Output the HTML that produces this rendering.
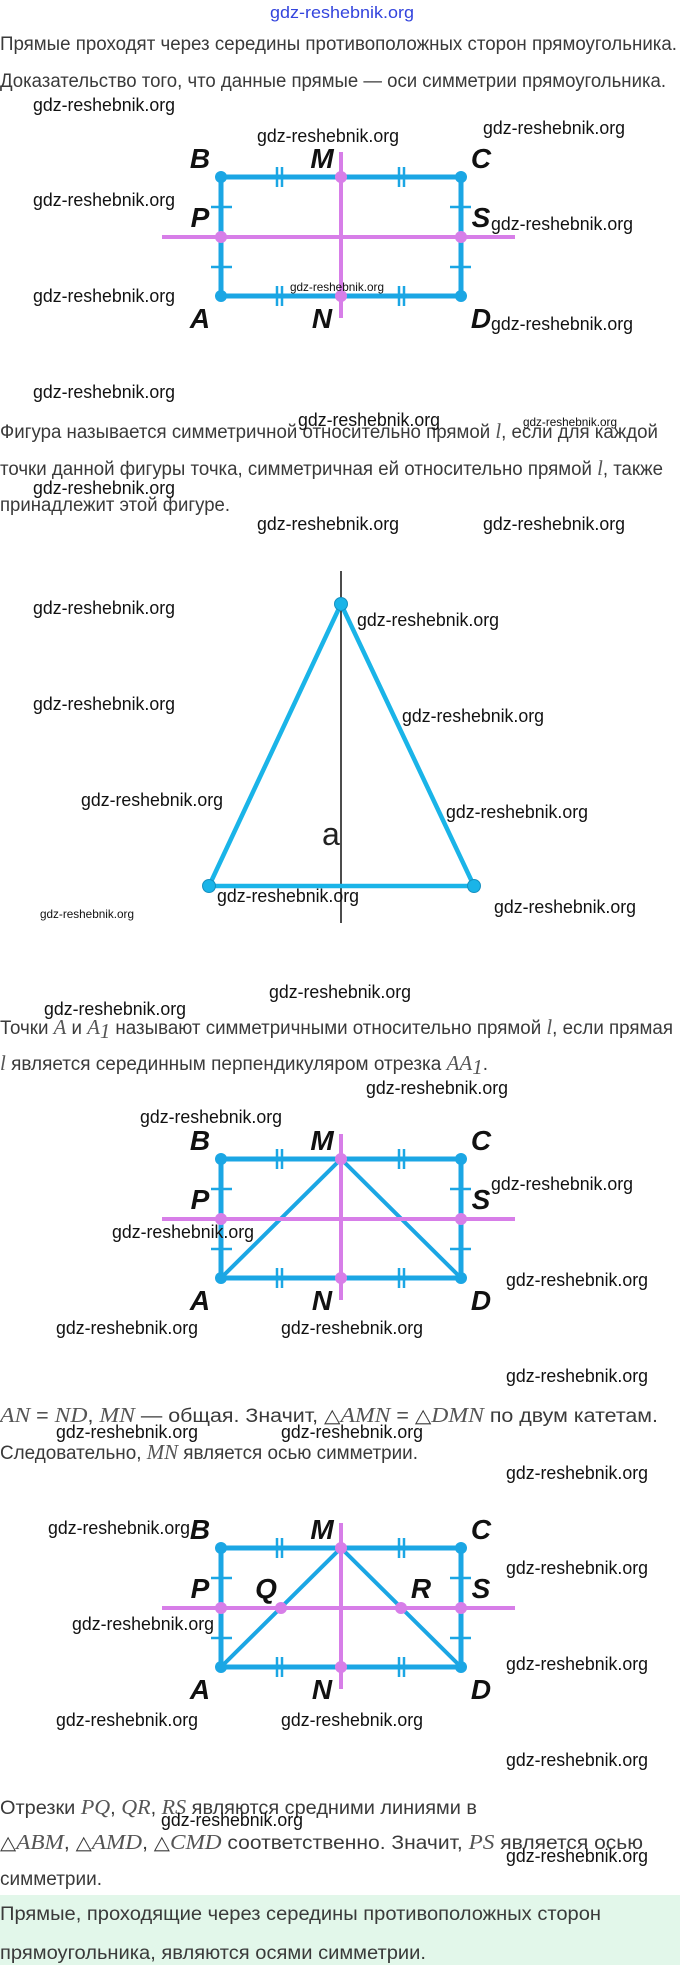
<!DOCTYPE html>
<html><head><meta charset="utf-8"><style>
html,body{margin:0;padding:0;background:#fff;}
svg{display:block;}
.t{font-family:"Liberation Sans",sans-serif;font-size:19px;fill:#3a3a3a;}
.m{font-family:"Liberation Serif",serif;font-style:italic;font-size:21px;fill:#555;}
.w{font-family:"Liberation Sans",sans-serif;font-size:18px;fill:#111;}
.ws{font-family:"Liberation Sans",sans-serif;font-size:12px;fill:#111;}
.L{font-family:"Liberation Sans",sans-serif;font-weight:bold;font-style:italic;font-size:28px;fill:#111;}
</style></head><body>
<svg width="680" height="1965" viewBox="0 0 680 1965" xmlns="http://www.w3.org/2000/svg">
<defs>
<g id="rect">
  <line x1="162" y1="60" x2="515" y2="60" stroke="#d77ee8" stroke-width="4"/>
  <line x1="341" y1="-25" x2="341" y2="141" stroke="#d77ee8" stroke-width="4"/>
  <rect x="221" y="0" width="240" height="119" fill="none" stroke="#1ba6e4" stroke-width="5"/>
  <g stroke="#1ba6e4" stroke-width="2.5">
    <line x1="277" y1="-10" x2="277" y2="10"/><line x1="282" y1="-10" x2="282" y2="10"/>
    <line x1="399" y1="-10" x2="399" y2="10"/><line x1="404" y1="-10" x2="404" y2="10"/>
    <line x1="277" y1="109" x2="277" y2="129"/><line x1="282" y1="109" x2="282" y2="129"/>
    <line x1="399" y1="109" x2="399" y2="129"/><line x1="404" y1="109" x2="404" y2="129"/>
    <line x1="211" y1="30" x2="232" y2="30"/><line x1="211" y1="90" x2="232" y2="90"/>
    <line x1="450" y1="30" x2="471" y2="30"/><line x1="450" y1="90" x2="471" y2="90"/>
  </g>
  <circle cx="221" cy="0" r="6" fill="#1ba6e4"/><circle cx="461" cy="0" r="6" fill="#1ba6e4"/>
  <circle cx="221" cy="119" r="6" fill="#1ba6e4"/><circle cx="461" cy="119" r="6" fill="#1ba6e4"/>
  <circle cx="341" cy="0" r="6" fill="#d77ee8"/><circle cx="341" cy="119" r="6" fill="#d77ee8"/>
  <circle cx="221" cy="60" r="6" fill="#d77ee8"/><circle cx="461" cy="60" r="6" fill="#d77ee8"/>
  <text class="L" x="200" y="-9" text-anchor="middle">B</text>
  <text class="L" x="322" y="-9" text-anchor="middle">M</text>
  <text class="L" x="481" y="-9" text-anchor="middle">C</text>
  <text class="L" x="200" y="50" text-anchor="middle">P</text>
  <text class="L" x="481" y="50" text-anchor="middle">S</text>
  <text class="L" x="200" y="151" text-anchor="middle">A</text>
  <text class="L" x="322" y="151" text-anchor="middle">N</text>
  <text class="L" x="481" y="151" text-anchor="middle">D</text>
</g>
<g id="diag">
  <polyline points="221,119 341,0 461,119" fill="none" stroke="#1ba6e4" stroke-width="4"/>
</g>
</defs>

<text x="342" y="18" text-anchor="middle" font-family="Liberation Sans,sans-serif" font-size="17" fill="#3344dd" textLength="144" lengthAdjust="spacingAndGlyphs">gdz-reshebnik.org</text>
<text class="t" x="0" y="50" textLength="677" lengthAdjust="spacingAndGlyphs">Прямые проходят через середины противоположных сторон прямоугольника.</text>
<text class="t" x="0" y="87" textLength="666" lengthAdjust="spacingAndGlyphs">Доказательство того, что данные прямые — оси симметрии прямоугольника.</text>

<g transform="translate(0,177)"><use href="#rect"/></g>

<text class="t" x="0" y="438" textLength="658" lengthAdjust="spacingAndGlyphs">Фигура называется симметричной относительно прямой <tspan class="m">l</tspan>, если для каждой</text>
<text class="t" x="0" y="475" textLength="663" lengthAdjust="spacingAndGlyphs">точки данной фигуры точка, симметричная ей относительно прямой <tspan class="m">l</tspan>, также</text>
<text class="t" x="0" y="511" textLength="230" lengthAdjust="spacingAndGlyphs">принадлежит этой фигуре.</text>

<line x1="341" y1="571" x2="341" y2="923" stroke="#111" stroke-width="1.5"/>
<polygon points="341,604 209,886 474,886" fill="none" stroke="#1ab4e8" stroke-width="4.5" stroke-linejoin="round"/>
<circle cx="341" cy="604" r="6.5" fill="#1ab4e8" stroke="#1590c0" stroke-width="1"/>
<circle cx="209" cy="886" r="6.5" fill="#1ab4e8" stroke="#1590c0" stroke-width="1"/>
<circle cx="474" cy="886" r="6.5" fill="#1ab4e8" stroke="#1590c0" stroke-width="1"/>
<text x="322" y="845" font-family="Liberation Sans,sans-serif" font-size="32" fill="#222">a</text>

<text class="t" x="0" y="1034" textLength="673" lengthAdjust="spacingAndGlyphs">Точки <tspan class="m">A</tspan> и <tspan class="m">A</tspan><tspan class="m" font-size="13" dy="4">1</tspan><tspan dy="-4"> называют симметричными относительно прямой </tspan><tspan class="m">l</tspan>, если прямая</text>
<text class="t" x="0" y="1070" textLength="488" lengthAdjust="spacingAndGlyphs"><tspan class="m">l</tspan> является серединным перпендикуляром отрезка <tspan class="m">AA</tspan><tspan class="m" font-size="13" dy="4">1</tspan><tspan dy="-4">.</tspan></text>

<g transform="translate(0,1159)"><use href="#diag"/><use href="#rect"/></g>

<text class="t" x="0" y="1422" textLength="658" lengthAdjust="spacingAndGlyphs"><tspan class="m">AN</tspan> = <tspan class="m">ND</tspan>, <tspan class="m">MN</tspan> — общая. Значит, △<tspan class="m">AMN</tspan> = △<tspan class="m">DMN</tspan> по двум катетам.</text>
<text class="t" x="0" y="1459" textLength="418" lengthAdjust="spacingAndGlyphs">Следовательно, <tspan class="m">MN</tspan> является осью симметрии.</text>

<g transform="translate(0,1548)"><use href="#diag"/><use href="#rect"/>
  <circle cx="281" cy="60" r="6" fill="#d77ee8"/><circle cx="401" cy="60" r="6" fill="#d77ee8"/>
  <text class="L" x="266" y="50" text-anchor="middle">Q</text>
  <text class="L" x="421" y="50" text-anchor="middle">R</text>
</g>

<text class="t" x="0" y="1814" textLength="477" lengthAdjust="spacingAndGlyphs">Отрезки <tspan class="m">PQ</tspan>, <tspan class="m">QR</tspan>, <tspan class="m">RS</tspan> являются средними линиями в</text>
<text class="t" x="0" y="1849" textLength="643" lengthAdjust="spacingAndGlyphs">△<tspan class="m">ABM</tspan>, △<tspan class="m">AMD</tspan>, △<tspan class="m">CMD</tspan> соответственно. Значит, <tspan class="m">PS</tspan> является осью</text>
<text class="t" x="0" y="1885" textLength="102" lengthAdjust="spacingAndGlyphs">симметрии.</text>

<rect x="0" y="1895" width="680" height="70" fill="#e2f7ea"/>
<text class="t" x="0" y="1920" textLength="601" lengthAdjust="spacingAndGlyphs">Прямые, проходящие через середины противоположных сторон</text>
<text class="t" x="0" y="1959" textLength="426" lengthAdjust="spacingAndGlyphs">прямоугольника, являются осями симметрии.</text>

<g class="w">
<text x="33" y="111" textLength="142" lengthAdjust="spacingAndGlyphs">gdz-reshebnik.org</text>
<text x="257" y="142" textLength="142" lengthAdjust="spacingAndGlyphs">gdz-reshebnik.org</text>
<text x="483" y="134" textLength="142" lengthAdjust="spacingAndGlyphs">gdz-reshebnik.org</text>
<text x="33" y="206" textLength="142" lengthAdjust="spacingAndGlyphs">gdz-reshebnik.org</text>
<text x="491" y="230" textLength="142" lengthAdjust="spacingAndGlyphs">gdz-reshebnik.org</text>
<text x="33" y="302" textLength="142" lengthAdjust="spacingAndGlyphs">gdz-reshebnik.org</text>
<text x="491" y="330" textLength="142" lengthAdjust="spacingAndGlyphs">gdz-reshebnik.org</text>
<text x="33" y="398" textLength="142" lengthAdjust="spacingAndGlyphs">gdz-reshebnik.org</text>
<text x="298" y="426" textLength="142" lengthAdjust="spacingAndGlyphs">gdz-reshebnik.org</text>
<text x="33" y="494" textLength="142" lengthAdjust="spacingAndGlyphs">gdz-reshebnik.org</text>
<text x="257" y="530" textLength="142" lengthAdjust="spacingAndGlyphs">gdz-reshebnik.org</text>
<text x="483" y="530" textLength="142" lengthAdjust="spacingAndGlyphs">gdz-reshebnik.org</text>
<text x="33" y="614" textLength="142" lengthAdjust="spacingAndGlyphs">gdz-reshebnik.org</text>
<text x="357" y="626" textLength="142" lengthAdjust="spacingAndGlyphs">gdz-reshebnik.org</text>
<text x="33" y="710" textLength="142" lengthAdjust="spacingAndGlyphs">gdz-reshebnik.org</text>
<text x="402" y="722" textLength="142" lengthAdjust="spacingAndGlyphs">gdz-reshebnik.org</text>
<text x="81" y="806" textLength="142" lengthAdjust="spacingAndGlyphs">gdz-reshebnik.org</text>
<text x="446" y="818" textLength="142" lengthAdjust="spacingAndGlyphs">gdz-reshebnik.org</text>
<text x="217" y="902" textLength="142" lengthAdjust="spacingAndGlyphs">gdz-reshebnik.org</text>
<text x="494" y="913" textLength="142" lengthAdjust="spacingAndGlyphs">gdz-reshebnik.org</text>
<text x="269" y="998" textLength="142" lengthAdjust="spacingAndGlyphs">gdz-reshebnik.org</text>
<text x="44" y="1015" textLength="142" lengthAdjust="spacingAndGlyphs">gdz-reshebnik.org</text>
<text x="366" y="1094" textLength="142" lengthAdjust="spacingAndGlyphs">gdz-reshebnik.org</text>
<text x="140" y="1123" textLength="142" lengthAdjust="spacingAndGlyphs">gdz-reshebnik.org</text>
<text x="491" y="1190" textLength="142" lengthAdjust="spacingAndGlyphs">gdz-reshebnik.org</text>
<text x="112" y="1238" textLength="142" lengthAdjust="spacingAndGlyphs">gdz-reshebnik.org</text>
<text x="506" y="1286" textLength="142" lengthAdjust="spacingAndGlyphs">gdz-reshebnik.org</text>
<text x="56" y="1334" textLength="142" lengthAdjust="spacingAndGlyphs">gdz-reshebnik.org</text>
<text x="281" y="1334" textLength="142" lengthAdjust="spacingAndGlyphs">gdz-reshebnik.org</text>
<text x="506" y="1382" textLength="142" lengthAdjust="spacingAndGlyphs">gdz-reshebnik.org</text>
<text x="56" y="1438" textLength="142" lengthAdjust="spacingAndGlyphs">gdz-reshebnik.org</text>
<text x="281" y="1438" textLength="142" lengthAdjust="spacingAndGlyphs">gdz-reshebnik.org</text>
<text x="506" y="1479" textLength="142" lengthAdjust="spacingAndGlyphs">gdz-reshebnik.org</text>
<text x="48" y="1534" textLength="142" lengthAdjust="spacingAndGlyphs">gdz-reshebnik.org</text>
<text x="506" y="1574" textLength="142" lengthAdjust="spacingAndGlyphs">gdz-reshebnik.org</text>
<text x="72" y="1630" textLength="142" lengthAdjust="spacingAndGlyphs">gdz-reshebnik.org</text>
<text x="506" y="1670" textLength="142" lengthAdjust="spacingAndGlyphs">gdz-reshebnik.org</text>
<text x="56" y="1726" textLength="142" lengthAdjust="spacingAndGlyphs">gdz-reshebnik.org</text>
<text x="281" y="1726" textLength="142" lengthAdjust="spacingAndGlyphs">gdz-reshebnik.org</text>
<text x="506" y="1766" textLength="142" lengthAdjust="spacingAndGlyphs">gdz-reshebnik.org</text>
<text x="161" y="1826" textLength="142" lengthAdjust="spacingAndGlyphs">gdz-reshebnik.org</text>
<text x="506" y="1862" textLength="142" lengthAdjust="spacingAndGlyphs">gdz-reshebnik.org</text>
</g>
<g class="ws">
<text x="290" y="291" textLength="94" lengthAdjust="spacingAndGlyphs">gdz-reshebnik.org</text>
<text x="523" y="426" textLength="94" lengthAdjust="spacingAndGlyphs">gdz-reshebnik.org</text>
<text x="40" y="918" textLength="94" lengthAdjust="spacingAndGlyphs">gdz-reshebnik.org</text>
</g>
</svg>
</body></html>
